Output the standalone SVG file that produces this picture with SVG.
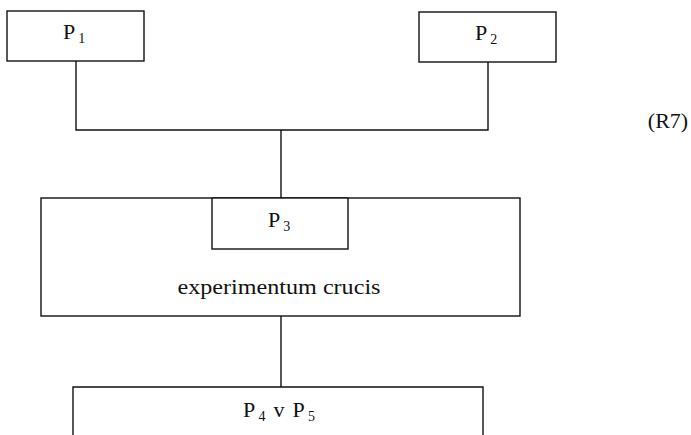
<svg xmlns="http://www.w3.org/2000/svg" width="691" height="435" viewBox="0 0 691 435">
<style>
.box{fill:#fff;stroke:#111;stroke-width:1.4}
.ln{fill:none;stroke:#111;stroke-width:1.4}
text{font-family:"Liberation Serif","Times New Roman",serif;font-size:22px;fill:#111;text-anchor:middle}
.sub{font-size:14px}
</style>
<rect width="691" height="435" fill="#fff"/>
<g id="connectors">
<polyline class="ln" points="76,61 76,130 488,130 488,62"/>
<line class="ln" x1="281" y1="130" x2="281" y2="198"/>
<line class="ln" x1="281" y1="316" x2="281" y2="387"/>
</g>
<g id="P1">
<rect class="box" x="7" y="11" width="137" height="50"/>
<text x="74" y="38.5">P<tspan class="sub" dx="3" dy="4">1</tspan></text>
</g>
<g id="P2">
<rect class="box" x="419" y="12" width="137" height="50"/>
<text x="486" y="40">P<tspan class="sub" dx="3" dy="4">2</tspan></text>
</g>
<g id="experimentum">
<rect class="box" x="41" y="198" width="479" height="118"/>
<text x="279" y="294" textLength="203" lengthAdjust="spacingAndGlyphs">experimentum crucis</text>
</g>
<g id="P3">
<rect class="box" x="212" y="198" width="136" height="51"/>
<text x="279" y="227">P<tspan class="sub" dx="3" dy="4">3</tspan></text>
</g>
<g id="P4vP5">
<polyline class="box" points="73,440 73,387 483,387 483,440"/>
<text x="279" y="417" textLength="72">P<tspan class="sub" dx="2" dy="4">4</tspan><tspan dy="-4">  v P</tspan><tspan class="sub" dx="2" dy="4">5</tspan></text>
</g>
<text x="668" y="128">(R7)</text>
</svg>
